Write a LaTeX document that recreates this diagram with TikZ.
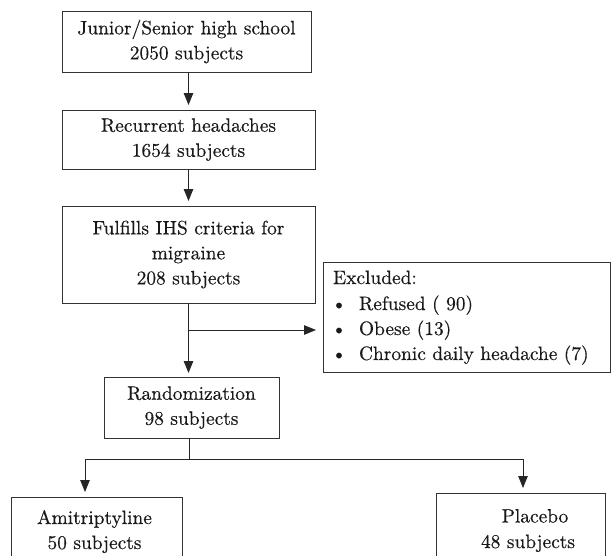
\documentclass[tikz,border=0pt]{standalone}
\usepackage{fontspec}
\setmainfont{lmroman10-regular.otf}[FakeBold=0.4]
\usetikzlibrary{arrows.meta,calc}
\begin{document}
\begin{tikzpicture}[x=1pt,y=-1pt,
  every node/.style={inner sep=0pt, outer sep=0pt, text=black!90},
  txt/.style={font=\fontsize{19.4}{25}\selectfont},
  box/.style={draw=black!80, line width=0.9pt, rectangle, align=center, txt},
  conn/.style={draw=black!85, line width=0.9pt},
  arr/.style={conn, -{Triangle[length=12pt,width=9.5pt]}, shorten >=5pt}]
\useasboundingbox (0,0) rectangle (612,555);
\clip (0,0) rectangle (612,555);
% boxes
\node[box, minimum width=249pt, minimum height=61pt] (b1) at (186.5,41.5)
  {Junior/Senior high school\\2050 subjects};
\node[box, minimum width=253pt, minimum height=59pt] (b2) at (188.5,139.5)
  {Recurrent headaches\\1654 subjects};
\node[box, minimum width=253pt, minimum height=97pt] (b3) at (188.5,254.5)
  {Fulfills IHS criteria for\\migraine\\208 subjects};
\node[box, minimum width=287pt, minimum height=110pt] (ex) at (466.5,317) {};
\node[box, minimum width=175pt, minimum height=61pt] (rnd) at (191.5,407.5)
  {Randomization\\98 subjects};
\node[box, minimum width=171pt, minimum height=90pt] (ami) at (96.5,542) {};
\node[box, minimum width=169pt, minimum height=90pt] (pla) at (520.5,538) {};
% excluded text
\node[txt, anchor=base west] (exh) at (333,284) {Excluded:};
\node[txt, anchor=base] (bu1) at (339,310) {\textbullet};
\node[txt, anchor=base west] (ex1) at (359,310) {Refused ( 90)};
\node[txt, anchor=base] (bu2) at (339,335) {\textbullet};
\node[txt, anchor=base west] (ex2) at (359,335) {Obese (13)};
\node[txt, anchor=base] (bu3) at (339,360) {\textbullet};
\node[txt, anchor=base west] (ex3) at (359,360) {Chronic daily headache (7)};
% bottom box texts
\node[txt, anchor=base] (amit1) at (94.5,524) {Amitriptyline};
\node[txt, anchor=base] (amit2) at (94.5,549) {50 subjects};
\node[txt, anchor=base] (plat1) at (535,522.5) {Placebo};
\node[txt, anchor=base] (plat2) at (528,548) {48 subjects};
% connectors
\coordinate (spine) at (188.5,0);
\coordinate (br) at (188.5,330);
\coordinate (split) at (189,459);
\coordinate (ax) at (85,0);
\coordinate (px) at (523,0);
\draw[arr] (b1.south -| spine) -- (b2.north -| spine);
\draw[arr] (b2.south -| spine) -- (b3.north -| spine);
\draw[arr, shorten >=4pt] (b3.south -| spine) -- (rnd.north -| spine);
\draw[arr, shorten >=7pt] (br) -- (br -| ex.west);
\draw[conn] (rnd.south -| split) -- (split);
\draw[arr] (split) -| (ami.north -| ax);
\draw[arr] (split) -| (pla.north -| px);
\end{tikzpicture}
\end{document}
